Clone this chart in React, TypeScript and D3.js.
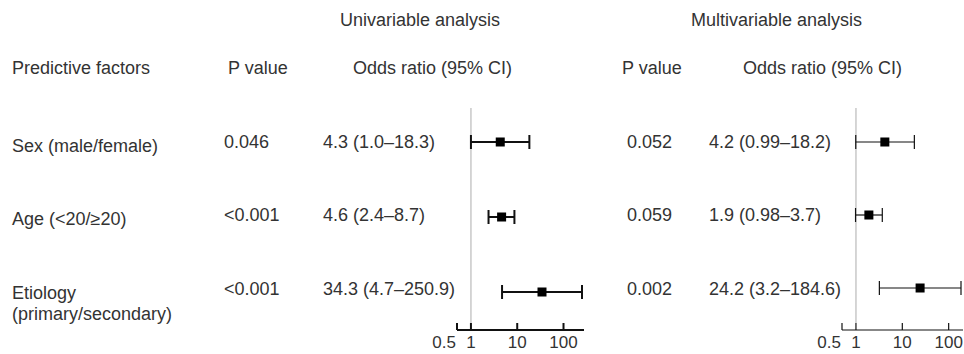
import * as d3 from "d3";

const factors = [["Sex (male/female)"], ["Age (<20/≥20)"], ["Etiology", "(primary/secondary)"]];

const uniP = ["0.046", "<0.001", "<0.001"];
const uniOR = [4.3, 4.6, 34.3];
const uniLow = [1.0, 2.4, 4.7];
const uniHigh = [18.3, 8.7, 250.9];
const uniLabel = ["4.3 (1.0–18.3)", "4.6 (2.4–8.7)", "34.3 (4.7–250.9)"];

const multiP = ["0.052", "0.059", "0.002"];
const multiOR = [4.2, 1.9, 24.2];
const multiLow = [0.99, 0.98, 3.2];
const multiHigh = [18.2, 3.7, 184.6];
const multiLabel = ["4.2 (0.99–18.2)", "1.9 (0.98–3.7)", "24.2 (3.2–184.6)"];

const ticks = [0.5, 1, 10, 100];

const W = 964;
const H = 354;
const FONT = "'Liberation Sans', Helvetica, Arial, sans-serif";
const TXT = "#333";
const HEAD_Y = 74;

const panels = [
  {
    title: "Univariable analysis", titleX: 340,
    pHeadX: 228, pX: 224, orHeadX: 353, orX: 323,
    xRange: [457, 582], rowRange: [142, 292], lw: 2,
    p: uniP, or: uniOR, low: uniLow, high: uniHigh, label: uniLabel,
  },
  {
    title: "Multivariable analysis", titleX: 691,
    pHeadX: 622, pX: 627, orHeadX: 743, orX: 709,
    xRange: [842, 961], rowRange: [142, 288], lw: 1.2,
    p: multiP, or: multiOR, low: multiLow, high: multiHigh, label: multiLabel,
  },
];

const idx = factors.map((_, i) => i);
const textY = d3.scalePoint<number>().domain(idx).range([148, 294.5]);
const factorY = d3.scalePoint<number>().domain(idx).range([152, 298.5]);

function Panel({ cfg }: { cfg: (typeof panels)[number] }) {
  const x = d3.scaleLog().domain([0.5, d3.max(cfg.high) as number]).range(cfg.xRange);
  const y = d3.scalePoint<number>().domain(idx).range(cfg.rowRange);
  const axisY = 330;
  const sq = 9;
  const cap = 7;
  return (
    <g>
      <text x={cfg.titleX} y={26} fontSize={18} fill={TXT}>{cfg.title}</text>
      <text x={cfg.pHeadX} y={HEAD_Y} fontSize={18} fill={TXT}>P value</text>
      <text x={cfg.orHeadX} y={HEAD_Y} fontSize={18} fill={TXT}>Odds ratio (95% CI)</text>
      {idx.map((i) => (
        <g key={i}>
          <text x={cfg.pX} y={textY(i)} fontSize={18} fill={TXT}>{cfg.p[i]}</text>
          <text x={cfg.orX} y={textY(i)} fontSize={18} fill={TXT}>{cfg.label[i]}</text>
        </g>
      ))}
      <line x1={x(1)} x2={x(1)} y1={108} y2={axisY - 7} stroke="#c8c8c8" strokeWidth={1.5} />
      {idx.map((i) => {
        const cy = y(i) as number;
        return (
          <g key={i} stroke="#111" strokeWidth={cfg.lw}>
            <line x1={x(cfg.low[i])} x2={x(cfg.high[i])} y1={cy} y2={cy} />
            <line x1={x(cfg.low[i])} x2={x(cfg.low[i])} y1={cy - cap} y2={cy + cap} />
            <line x1={x(cfg.high[i])} x2={x(cfg.high[i])} y1={cy - cap} y2={cy + cap} />
            <rect x={x(cfg.or[i]) - sq / 2} y={cy - sq / 2} width={sq} height={sq} fill="#000" stroke="none" />
          </g>
        );
      })}
      <g stroke="#111" strokeWidth={cfg.lw}>
        <line x1={cfg.xRange[0]} x2={cfg.xRange[1] + 2} y1={axisY} y2={axisY} />
        {ticks.map((t) => (
          <line key={t} x1={x(t)} x2={x(t)} y1={axisY - 7} y2={axisY} />
        ))}
      </g>
      {ticks.map((t, k) => (
        <text key={t} x={k === 0 ? x(t) - 1 : x(t)} y={348} fontSize={17} fill={TXT}
          textAnchor={k === 0 ? "end" : "middle"}>{String(t)}</text>
      ))}
    </g>
  );
}

export default function App() {
  return (
    <svg width={W} height={H} fontFamily={FONT}
      style={{ position: "absolute", left: 0, top: 0, background: "#fff" }}>
      {factors.map((lines, i) => (
        <text key={i} x={12} y={factorY(i)} fontSize={18} fill={TXT}>
          {lines.map((l, j) => (
            <tspan key={j} x={12} dy={j === 0 ? 0 : 21}>{l}</tspan>
          ))}
        </text>
      ))}
      <text x={12} y={HEAD_Y} fontSize={18} fill={TXT}>Predictive factors</text>
      {panels.map((p) => (
        <Panel key={p.title} cfg={p} />
      ))}
    </svg>
  );
}
